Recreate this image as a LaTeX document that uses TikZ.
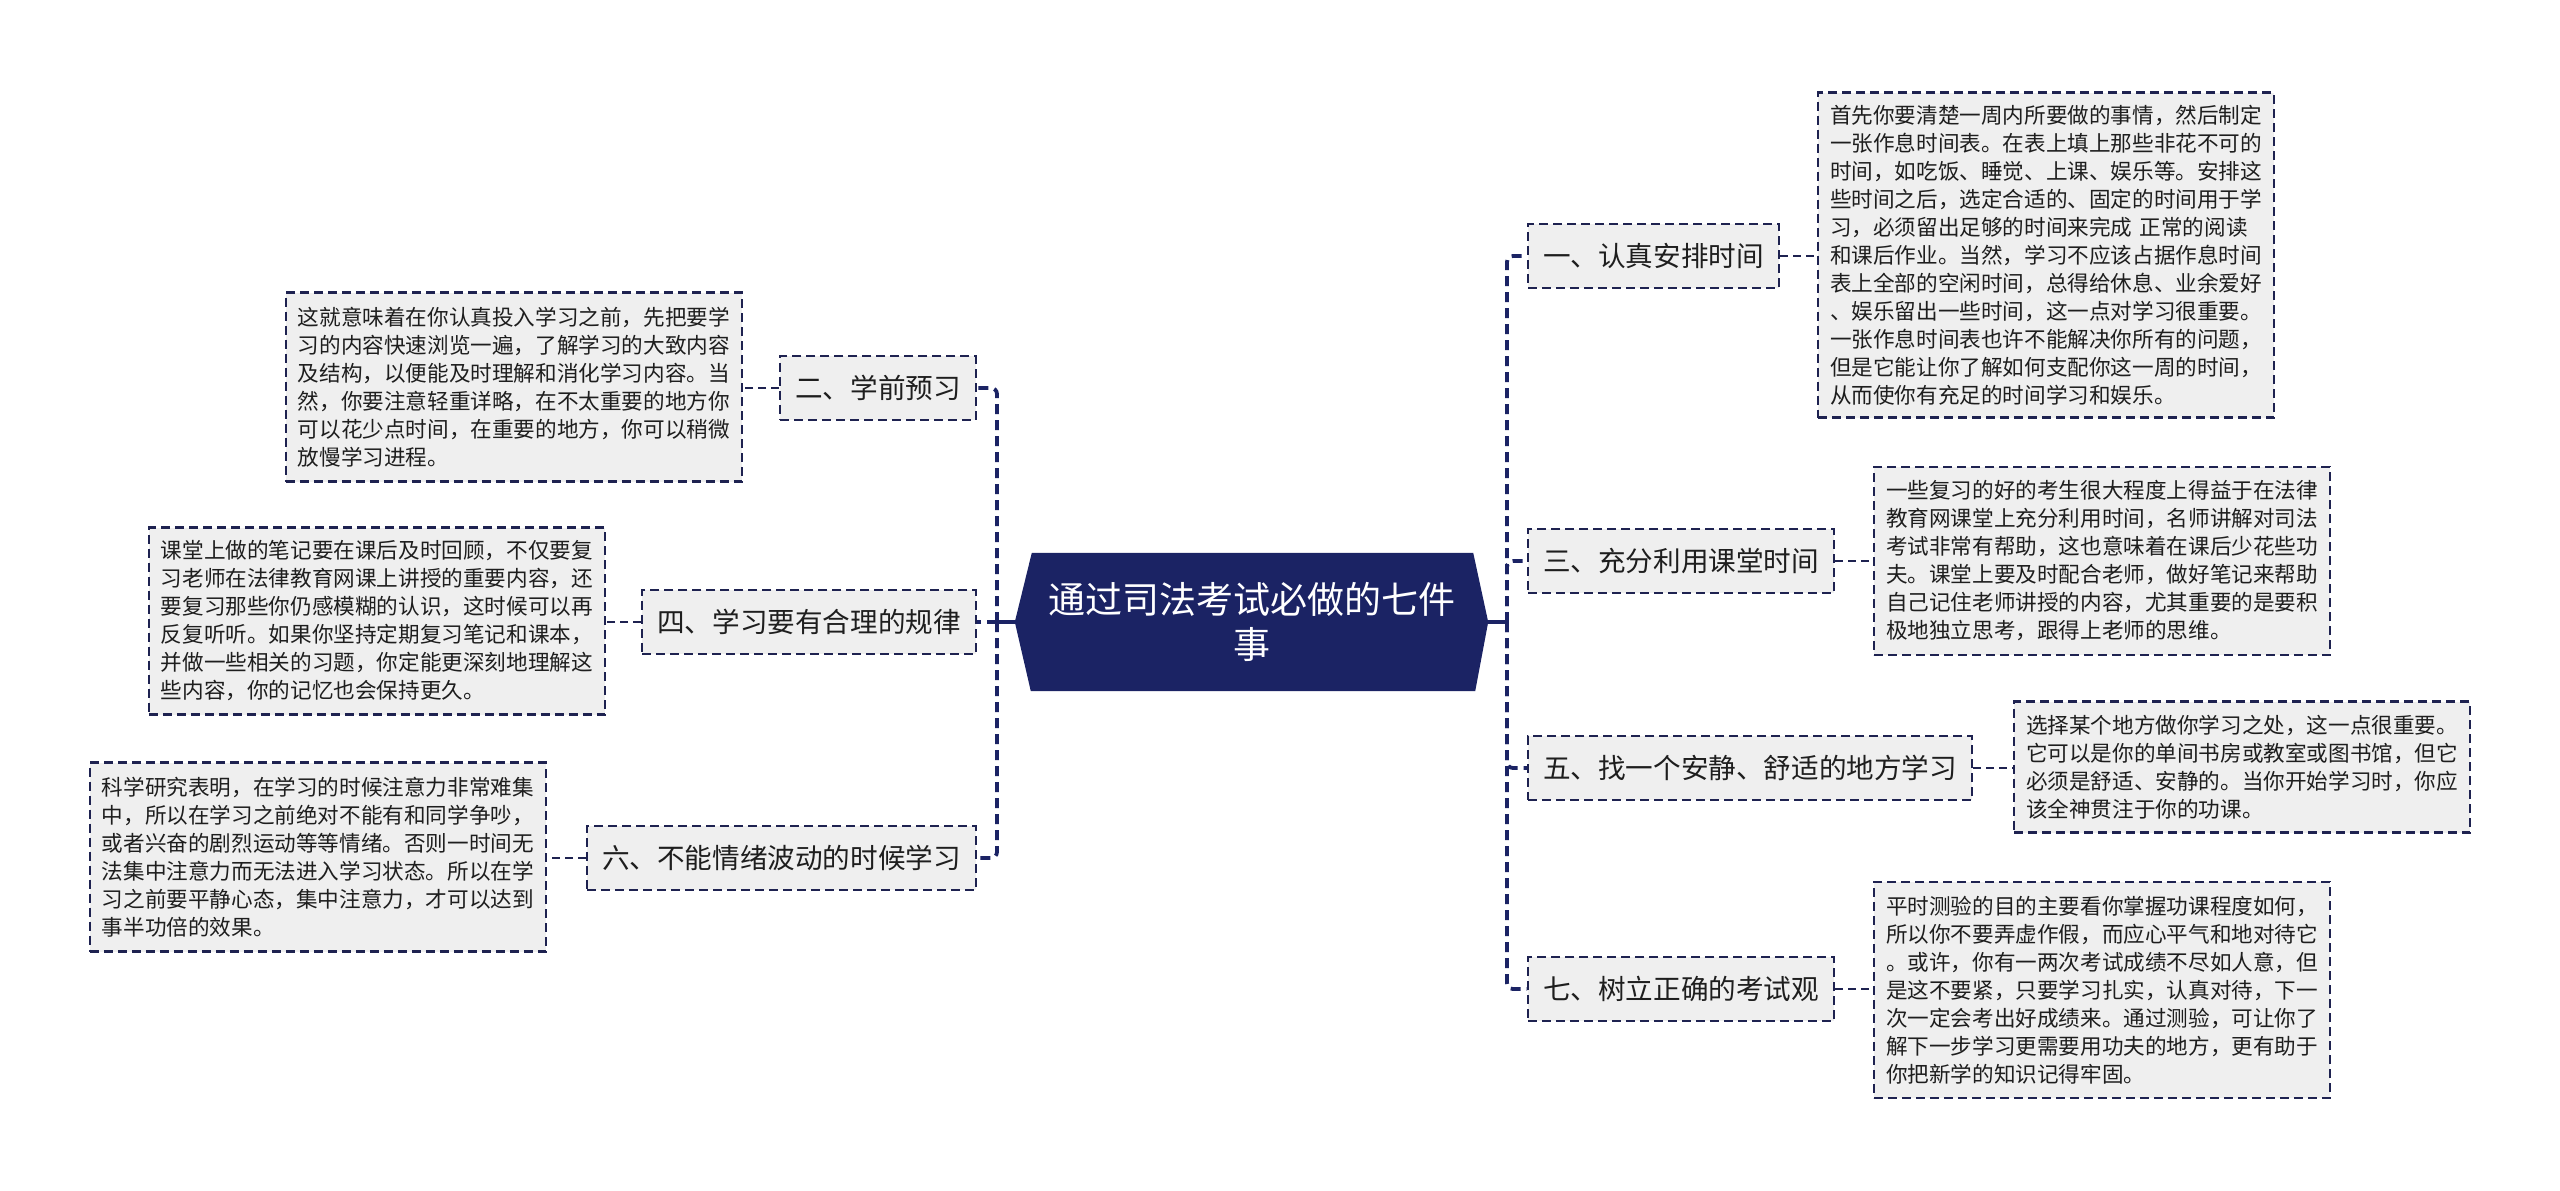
\documentclass[tikz,border=0pt]{standalone}
\usepackage{fontspec}
\setmainfont{Noto Sans CJK SC}
\usetikzlibrary{backgrounds}
\definecolor{navy}{RGB}{27,35,100}
\definecolor{edge}{RGB}{30,34,80}
\definecolor{boxfill}{RGB}{239,239,239}
\definecolor{ink}{RGB}{30,30,30}
\tikzset{
  branchbox/.style={draw=edge, line width=2.3pt, dash pattern=on 9pt off 5pt, fill=boxfill,
    minimum height=64pt, inner xsep=15pt, inner ysep=0pt, text=ink,
    font=\fontsize{27.6pt}{32pt}\selectfont},
  leafbox/.style={draw=edge, line width=2.1pt, dash pattern=on 9pt off 5pt, fill=boxfill,
    text width=432pt, align=left, inner xsep=12pt, inner ysep=8pt, text=ink,
    font=\fontsize{21.6pt}{28pt}\selectfont},
  trunk/.style={draw=navy, line width=3.8pt, dash pattern=on 10pt off 6pt, rounded corners=6pt},
  leafline/.style={draw=edge, line width=1.9pt, dash pattern=on 8pt off 5pt},
  centerbox/.style={minimum width=473pt, minimum height=138pt, inner sep=0pt, text=white,
    align=center, font=\fontsize{37pt}{45pt}\selectfont},
}
\begin{document}
\begin{tikzpicture}[x=1pt,y=-1pt]
\useasboundingbox (0,0) rectangle (2560,1191);
\begin{scope}[on background layer]
  \fill[white] (0,0) rectangle (2560,1191);
\end{scope}

% centre
\node[centerbox] (c) at (1251.5,622) {通过司法考试必做的七件\\事};
\begin{scope}[on background layer]
  \fill[navy] ([xshift=17pt]c.north west) -- ([xshift=-15pt]c.north east) -- (c.east)
    -- ([xshift=-13pt]c.south east) -- ([xshift=16pt]c.south west) -- (c.west) -- cycle;
\end{scope}

% right branches
\node[branchbox, anchor=west] (b1) at (1527,256) {一、认真安排时间};
\node[branchbox, anchor=west] (b3) at (1527,561) {三、充分利用课堂时间};
\node[branchbox, anchor=west] (b5) at (1527,768) {五、找一个安静、舒适的地方学习};
\node[branchbox, anchor=west] (b7) at (1527,989) {七、树立正确的考试观};

% left branches
\node[branchbox, anchor=east] (b2) at (977,388) {二、学前预习};
\node[branchbox, anchor=east] (b4) at (977,622) {四、学习要有合理的规律};
\node[branchbox, anchor=east] (b6) at (977,858) {六、不能情绪波动的时候学习};

% leaves
\node[leafbox, anchor=west, minimum height=325pt] (l1) at (1817,255) {首先你要清楚一周内所要做的事情，然后制定\\一张作息时间表。在表上填上那些非花不可的\\时间，如吃饭、睡觉、上课、娱乐等。安排这\\些时间之后，选定合适的、固定的时间用于学\\习，必须留出足够的时间来完成~正常的阅读\\和课后作业。当然，学习不应该占据作息时间\\表上全部的空闲时间，总得给休息、业余爱好\\、娱乐留出一些时间，这一点对学习很重要。\\一张作息时间表也许不能解决你所有的问题，\\但是它能让你了解如何支配你这一周的时间，\\从而使你有充足的时间学习和娱乐。};
\node[leafbox, anchor=west, minimum height=188pt] (l3) at (1873,561) {一些复习的好的考生很大程度上得益于在法律\\教育网课堂上充分利用时间，名师讲解对司法\\考试非常有帮助，这也意味着在课后少花些功\\夫。课堂上要及时配合老师，做好笔记来帮助\\自己记住老师讲授的内容，尤其重要的是要积\\极地独立思考，跟得上老师的思维。};
\node[leafbox, anchor=west, minimum height=131pt] (l5) at (2013,767) {选择某个地方做你学习之处，这一点很重要。\\它可以是你的单间书房或教室或图书馆，但它\\必须是舒适、安静的。当你开始学习时，你应\\该全神贯注于你的功课。};
\node[leafbox, anchor=west, minimum height=216pt] (l7) at (1873,990) {平时测验的目的主要看你掌握功课程度如何，\\所以你不要弄虚作假，而应心平气和地对待它\\。或许，你有一两次考试成绩不尽如人意，但\\是这不要紧，只要学习扎实，认真对待，下一\\次一定会考出好成绩来。通过测验，可让你了\\解下一步学习更需要用功夫的地方，更有助于\\你把新学的知识记得牢固。};
\node[leafbox, anchor=east, minimum height=189pt] (l2) at (743,387) {这就意味着在你认真投入学习之前，先把要学\\习的内容快速浏览一遍，了解学习的大致内容\\及结构，以便能及时理解和消化学习内容。当\\然，你要注意轻重详略，在不太重要的地方你\\可以花少点时间，在重要的地方，你可以稍微\\放慢学习进程。};
\node[leafbox, anchor=east, minimum height=187pt] (l4) at (606,621) {课堂上做的笔记要在课后及时回顾，不仅要复\\习老师在法律教育网课上讲授的重要内容，还\\要复习那些你仍感模糊的认识，这时候可以再\\反复听听。如果你坚持定期复习笔记和课本，\\并做一些相关的习题，你定能更深刻地理解这\\些内容，你的记忆也会保持更久。};
\node[leafbox, anchor=east, minimum height=189pt] (l6) at (547,857) {科学研究表明，在学习的时候注意力非常难集\\中，所以在学习之前绝对不能有和同学争吵，\\或者兴奋的剧烈运动等等情绪。否则一时间无\\法集中注意力而无法进入学习状态。所以在学\\习之前要平静心态，集中注意力，才可以达到\\事半功倍的效果。};

% trunks
\coordinate (trR) at (1507,622);
\coordinate (trL) at (997,622);
\draw[trunk, solid] (c.east) -- (trR);
\draw[trunk] (trR) |- (b1.west);
\draw[trunk] (trR) |- (b3.west);
\draw[trunk] (trR) |- (b5.west);
\draw[trunk] (trR) |- (b7.west);
\draw[trunk, solid] (c.west) -- (trL);
\draw[trunk] (trL) |- (b2.east);
\draw[trunk] (trL) -- (b4.east);
\draw[trunk] (trL) |- (b6.east);

% leaf connectors
\draw[leafline] (b1.east) -- (b1.east -| l1.west);
\draw[leafline] (b3.east) -- (b3.east -| l3.west);
\draw[leafline] (b5.east) -- (b5.east -| l5.west);
\draw[leafline] (b7.east) -- (b7.east -| l7.west);
\draw[leafline] (b2.west) -- (b2.west -| l2.east);
\draw[leafline] (b4.west) -- (b4.west -| l4.east);
\draw[leafline] (b6.west) -- (b6.west -| l6.east);
\end{tikzpicture}
\end{document}
